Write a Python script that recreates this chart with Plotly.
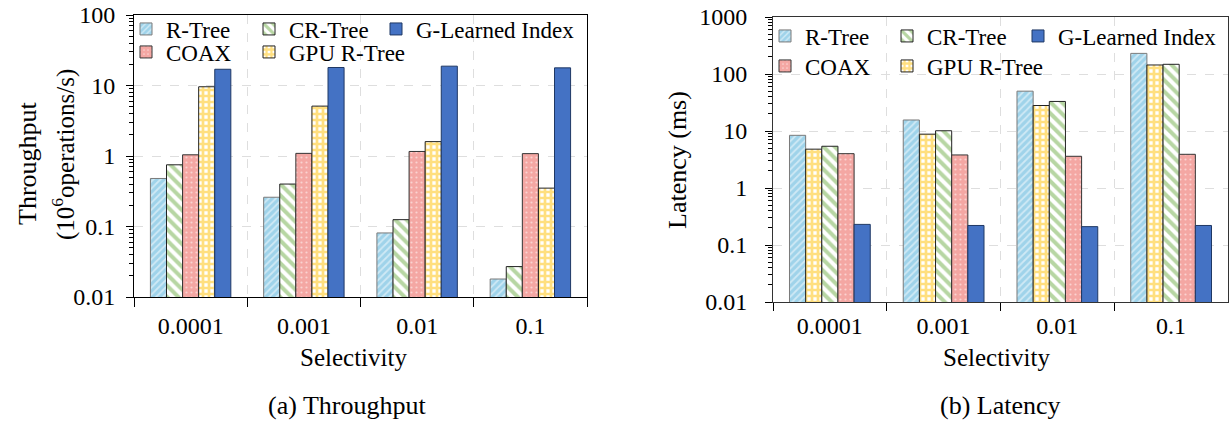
import plotly.graph_objects as go

categories = ["0.0001", "0.001", "0.01", "0.1"]

# Throughput (10^6 operations/s)
rtree_tp = [0.48, 0.26, 0.081, 0.018]
crtree_tp = [0.75, 0.40, 0.125, 0.027]
coax_tp = [1.04, 1.09, 1.16, 1.08]
gpu_tp = [9.6, 5.1, 1.6, 0.35]
gli_tp = [17.0, 18.0, 18.8, 17.8]

# Latency (ms)
rtree_lat = [8.4, 15.6, 50, 230]
gpu_lat = [4.8, 8.8, 28, 144]
crtree_lat = [5.4, 10.1, 33, 148]
coax_lat = [4.0, 3.8, 3.6, 3.9]
gli_lat = [0.23, 0.22, 0.21, 0.22]

tp_ticks = [0.01, 0.1, 1, 10, 100]
tp_ticktext = ["0.01", "0.1", "1", "10", "100"]
lat_ticks = [0.01, 0.1, 1, 10, 100, 1000]
lat_ticktext = ["0.01", "0.1", "1", "10", "100", "1000"]

W, H = 1231, 422
ML, MR, MT, MB = 134, 3, 15, 120
PW = W - ML - MR
PH = H - MT - MB


def px_x(px):
    return (px - ML) / PW


def px_y(py):
    return (H - MB - py) / PH


FONT = "Liberation Serif"

styles = {
    "R-Tree": dict(color="#a9d9ef", pattern=dict(shape="/", fgcolor="#ffffff", bgcolor="#9fd3ea", size=5, solidity=0.35), line=dict(color="#7a7a7a", width=1)),
    "CR-Tree": dict(color="#70ad47", pattern=dict(shape="\\", fgcolor="#70ad47", bgcolor="#ffffff", size=8, solidity=0.5), line=dict(color="#222222", width=1)),
    "COAX": dict(color="#f4a7a3", pattern=dict(shape=".", fgcolor="#ffffff", bgcolor="#f4a7a3", size=5, solidity=0.15), line=dict(color="#333333", width=1)),
    "GPU R-Tree": dict(color="#ffc000", pattern=dict(shape="+", fgcolor="#ffc000", bgcolor="#ffffff", size=6, solidity=0.7), line=dict(color="#222222", width=1)),
    "G-Learned Index": dict(color="#4472c4", line=dict(color="#1f3864", width=1)),
}

left_series = [("R-Tree", rtree_tp), ("CR-Tree", crtree_tp), ("COAX", coax_tp),
               ("GPU R-Tree", gpu_tp), ("G-Learned Index", gli_tp)]
right_series = [("R-Tree", rtree_lat), ("GPU R-Tree", gpu_lat), ("CR-Tree", crtree_lat),
                ("COAX", coax_lat), ("G-Learned Index", gli_lat)]

# legend icon centres (px) for each chart
left_leg = {"R-Tree": (150, 29), "CR-Tree": (273, 29), "G-Learned Index": (400, 29),
            "COAX": (150, 52), "GPU R-Tree": (273, 52)}
right_leg = {"R-Tree": (789, 36), "CR-Tree": (911, 36), "G-Learned Index": (1042, 36),
             "COAX": (789, 66), "GPU R-Tree": (911, 66)}

fig = go.Figure()
layout_legends = {}
n = 0
for (series, xa, ya, legpos) in [(left_series, "x", "y", left_leg), (right_series, "x2", "y2", right_leg)]:
    for name, vals in series:
        n += 1
        key = "legend" if n == 1 else f"legend{n}"
        fig.add_trace(go.Bar(
            x=categories, y=vals, name=name, xaxis=xa, yaxis=ya,
            marker=styles[name], legend=key, showlegend=True,
        ))
        cx, cy = legpos[name]
        layout_legends[key] = dict(
            x=px_x(cx - 24), y=px_y(cy), xanchor="left", yanchor="middle",
            bgcolor="rgba(0,0,0,0)", borderwidth=0,
            font=dict(family=FONT, size=23, color="#000"),
            itemwidth=30, tracegroupgap=0,
        )

grid = dict(showgrid=True, gridcolor="#dedede", griddash="dash", gridwidth=1)
TICKF = dict(family=FONT, size=24, color="#000")

fig.update_layout(
    width=W, height=H,
    margin=dict(l=ML, r=MR, t=MT, b=MB, autoexpand=False),
    paper_bgcolor="white", plot_bgcolor="white",
    barmode="group", bargap=0.29, bargroupgap=0,
    font=dict(family=FONT, size=23, color="#000"),
    xaxis=dict(domain=[0, px_x(587)], anchor="y", type="category", tickson="boundaries",
               ticks="outside", ticklen=9, tickcolor="#000", showline=True, linecolor="#000",
               linewidth=1, mirror=True, ticklabelstandoff=7, tickfont=TICKF, **grid),
    yaxis=dict(domain=[px_y(297), 1], anchor="x", type="log", range=[-2, 2],
               tickvals=tp_ticks, ticktext=tp_ticktext, ticks="outside", ticklen=7,
               tickcolor="#000", showline=True, linecolor="#000", linewidth=1, mirror=True,
               ticklabelstandoff=6, tickfont=TICKF,
               minor=dict(ticks="outside", ticklen=4, tickcolor="#000", dtick="D1", showgrid=False),
               **grid),
    xaxis2=dict(domain=[px_x(773), 1], anchor="y2", type="category", tickson="boundaries",
                ticks="outside", ticklen=8, tickcolor="#000", showline=True, linecolor="#333",
                linewidth=1, mirror=True, ticklabelstandoff=2, tickfont=TICKF, **grid),
    yaxis2=dict(domain=[0, px_y(17)], anchor="x2", type="log", range=[-2, 3],
                tickvals=lat_ticks, ticktext=lat_ticktext, ticks="outside", ticklen=7,
                tickcolor="#000", showline=True, linecolor="#333", linewidth=1, mirror=True,
                ticklabelstandoff=13, tickfont=TICKF,
                minor=dict(ticks="outside", ticklen=4, tickcolor="#000", dtick="D1", showgrid=False),
                **grid),
    **layout_legends,
)

annotations = [
    dict(text="Throughput", x=px_x(27), y=px_y(163), textangle=-90, size=26),
    dict(text="(10<sup>6</sup>operations/s)", x=px_x(63), y=px_y(155), textangle=-90, size=25),
    dict(text="Latency (ms)", x=px_x(677), y=px_y(160), textangle=-90, size=26),
    dict(text="Selectivity", x=px_x(353), y=px_y(357), size=25),
    dict(text="Selectivity", x=px_x(996), y=px_y(357), size=25),
    dict(text="(a) Throughput", x=px_x(347), y=px_y(405), size=26),
    dict(text="(b) Latency", x=px_x(1000), y=px_y(405), size=26),
]
for a in annotations:
    sz = a.pop("size")
    fig.add_annotation(xref="paper", yref="paper", xanchor="center", yanchor="middle",
                       showarrow=False, font=dict(family=FONT, size=sz, color="#000"), **a)

fig.write_html("out.html", config={"displayModeBar": False},
               post_script="document.body.style.margin='0';document.body.style.overflow='hidden';")
